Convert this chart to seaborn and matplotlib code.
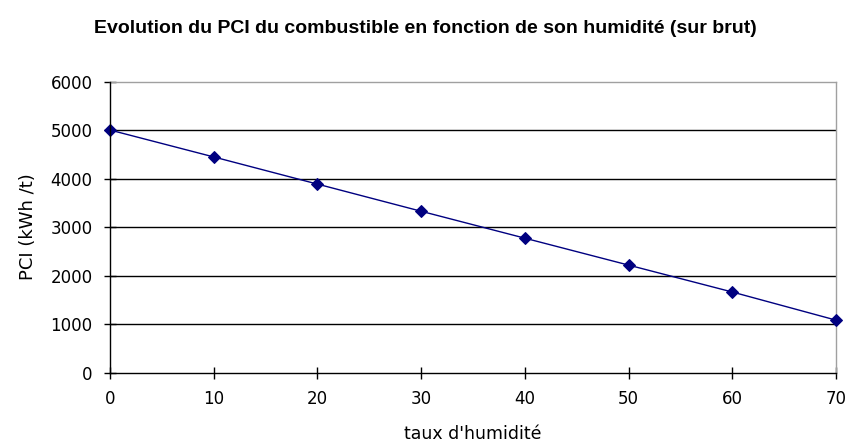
import matplotlib
matplotlib.use("Agg")
import matplotlib.pyplot as plt
import seaborn as sns
import pandas as pd

humidite = [0, 10, 20, 30, 40, 50, 60, 70]
pci = [5000, 4445, 3885, 3325, 2770, 2215, 1660, 1080]
y_ticks = [0, 1000, 2000, 3000, 4000, 5000, 6000]
x_ticks = [0, 10, 20, 30, 40, 50, 60, 70]

sns.set_theme(style="white")
plt.rcParams['font.family'] = ['DejaVu Sans']

df = pd.DataFrame({"humidite": humidite, "pci": pci})

fig = plt.figure(figsize=(8.5, 4.44), dpi=100)
ax = fig.add_axes([0.1294, 0.161, 0.8541, 0.6554])

sns.lineplot(data=df, x="humidite", y="pci", ax=ax, color="#000080",
             linewidth=1.0, marker="D", markersize=6, markeredgecolor="#000080",
             zorder=3, clip_on=False)

ax.set_xlim(0, 70)
ax.set_ylim(0, 6000)
ax.set_xticks(x_ticks)
ax.set_yticks(y_ticks)
for v in y_ticks[1:-1]:
    ax.axhline(v, color="black", linewidth=1.0, zorder=1)

ax.spines['left'].set_color('black')
ax.spines['bottom'].set_color('black')
ax.spines['top'].set_color('#a0a0a0')
ax.spines['right'].set_color('#a0a0a0')
for s in ax.spines.values():
    s.set_linewidth(1.0)
ax.spines['left'].set_zorder(4)
ax.spines['bottom'].set_zorder(4)

ax.tick_params(axis='both', which='major', direction='inout', length=9, width=1,
               color='black', labelsize=12, labelcolor='black',
               left=True, bottom=True)
ax.tick_params(axis='x', pad=8)
ax.tick_params(axis='y', pad=8)

ax.set_xlabel("taux d'humidité", fontsize=12.5, labelpad=12, color='black')
ax.set_ylabel("PCI (kWh /t)", fontsize=13, labelpad=10, color='black')

fig.text(0.5, 0.935, "Evolution du PCI du combustible en fonction de son humidité (sur brut)",
         ha='center', va='center', fontsize=14, fontweight='bold', color='black',
         family=['Liberation Sans', 'DejaVu Sans'])

fig.savefig("out.png", dpi=100, facecolor='white')
